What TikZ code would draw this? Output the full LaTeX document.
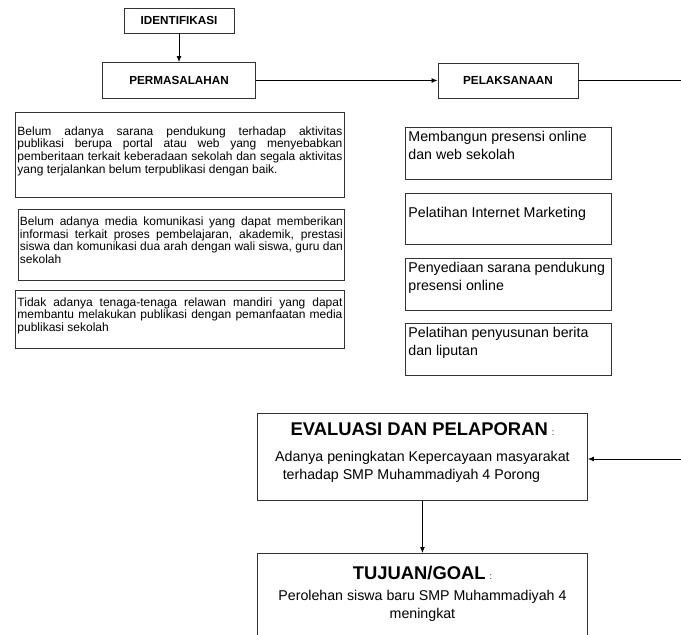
\documentclass[tikz,border=0pt]{standalone}
\usepackage{fontspec}
\setmainfont{Liberation Sans}
\usetikzlibrary{positioning,arrows.meta}

\newcommand{\boxtext}[3]{\parbox[t][#1][t]{#2}{#3}}
\newcommand{\leftfont}{\fontsize{12}{12.6}\selectfont}
\newcommand{\rightfont}{\fontsize{14.2}{18}\selectfont}
\newcommand{\titlefont}{\fontsize{18.4}{22}\selectfont\bfseries}
\newcommand{\colonfont}{\fontsize{9}{10}\selectfont}
\hyphenpenalty=10000

\begin{document}
\begin{tikzpicture}[x=1pt,y=-1pt]
                \tikzstyle{head}=[rectangle, draw=black!80, line width=0.9pt, inner sep=0pt, font=\fontsize{11.7}{14}\selectfont\bfseries]
                \tikzstyle{problem}=[rectangle, draw=black!80, line width=0.9pt, anchor=north west, inner xsep=2pt, inner ysep=7pt]
                \tikzstyle{task}=[rectangle, draw=black!80, line width=0.9pt, anchor=north west, inner xsep=3pt, inner ysep=1pt]
                \tikzstyle{result}=[rectangle, draw=black!80, line width=0.9pt, anchor=north west, inner xsep=0pt, inner ysep=7pt]
                \tikzstyle{connect}=[line width=0.9pt, -{Latex[length=6pt,width=5pt]}]
                \tikzstyle{plain}=[line width=0.9pt]
                \useasboundingbox (0,0) rectangle (681,635);
                \node[head, minimum width=110pt, minimum height=25pt] (ident) at (179,20.5){IDENTIFIKASI};
                \node[head, minimum width=153pt, minimum height=36pt] (perm) at (179,80.5){PERMASALAHAN};
                \node[head, minimum width=140pt, minimum height=35pt] (pelak) at (508,80.5){PELAKSANAAN};
    \node[problem, inner ysep=14pt] (mas1) at (15,112){\boxtext{57pt}{325pt}{\leftfont\strut Belum adanya sarana pendukung terhadap aktivitas\linebreak publikasi berupa portal atau web yang menyebabkan\linebreak pemberitaan terkait keberadaan sekolah dan segala aktivitas\linebreak yang terjalankan belum terpublikasi dengan baik.}};
                \node[problem, inner xsep=1.5pt, inner ysep=7.2pt] (mas2) at (18,209){\boxtext{56.6pt}{323pt}{\leftfont\strut Belum adanya media komunikasi yang dapat memberikan\linebreak informasi terkait proses pembelajaran, akademik, prestasi\linebreak siswa dan komunikasi dua arah dengan wali siswa, guru dan\linebreak sekolah}};
                \node[problem] (mas3) at (15,290){\boxtext{44pt}{325pt}{\leftfont\strut Tidak adanya tenaga-tenaga relawan mandiri yang dapat\linebreak membantu melakukan publikasi dengan pemanfaatan media\linebreak publikasi sekolah}};
                \node[task] (pel1) at (405,127){\boxtext{50pt}{200pt}{\rightfont\raggedright\strut Membangun presensi online\\dan web sekolah}};
                \node[task] (pel2) at (405,193){\boxtext{49pt}{200pt}{\rightfont\raggedright\vspace*{10.5pt}\strut Pelatihan Internet Marketing}};
                \node[task] (pel3) at (405,258){\boxtext{50pt}{200pt}{\rightfont\raggedright\strut Penyediaan sarana pendukung\\presensi online}};
                \node[task] (pel4) at (405,323){\boxtext{50pt}{200pt}{\rightfont\raggedright\strut Pelatihan penyusunan berita\\dan liputan}};
    \node[result] (eval) at (257,413){\boxtext{73pt}{330pt}{\centering\rightfont{\titlefont\strut EVALUASI DAN PELAPORAN} {\colonfont :}\hspace*{25pt}\\[8pt]Adanya peningkatan Kepercayaan masyarakat\\terhadap SMP Muhammadiyah 4 Porong\hspace*{22pt}}};
                \node[result, inner ysep=10.6pt] (goal) at (257,553){\boxtext{66pt}{330pt}{\centering\rightfont{\titlefont\strut TUJUAN/GOAL} {\colonfont :}\\[3pt]Perolehan siswa baru SMP Muhammadiyah 4\\meningkat}};
                \coordinate (rimtop) at (681,80.5);
                \coordinate (rimbot) at (681,459);
                \path (ident) edge [connect] (perm);
                \path (perm) edge [connect] (pelak);
                \path (pelak) edge [plain] (rimtop);
                \path (rimbot) edge [connect] (rimbot -| eval.east);
                \path (eval) edge [connect] (goal);
    
    \end{tikzpicture}
\end{document}
